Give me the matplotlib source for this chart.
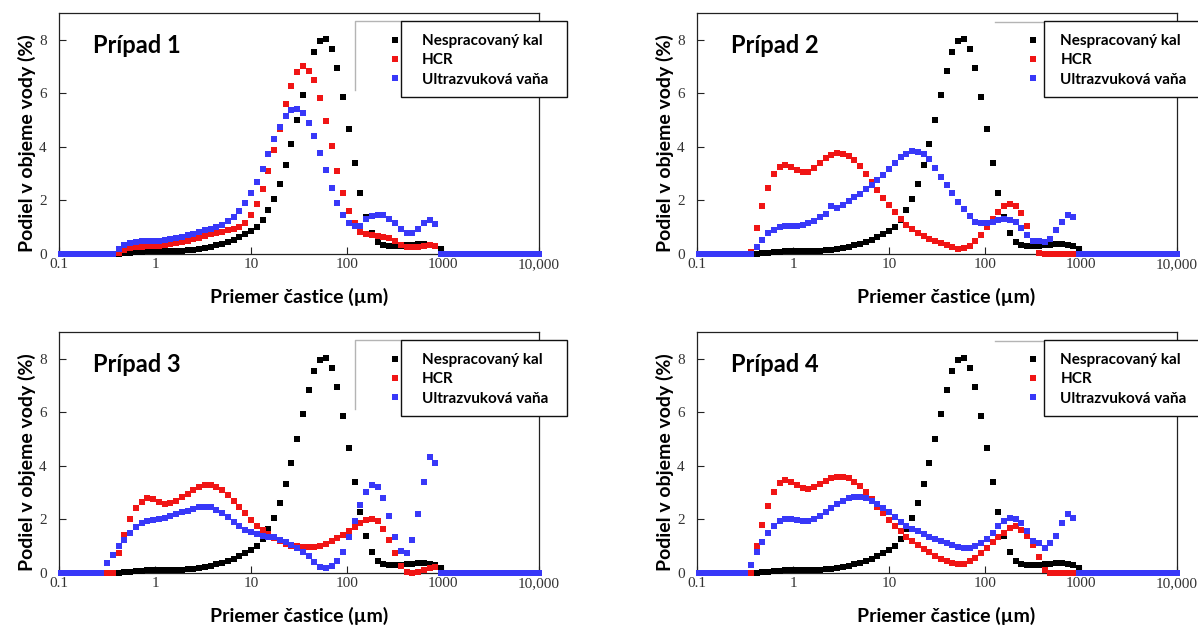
import numpy as np
import matplotlib
matplotlib.use("Agg")
import matplotlib.pyplot as plt
from matplotlib.lines import Line2D
from matplotlib.patches import Rectangle

# velkostne triedy (um), logaritmicka mriezka s krokom 0.06 dekady
bins = 10 ** (-0.98 + 0.06 * np.arange(84))
first = 8  # zoznamy nizsie zacinaju triedou k = 8 a koncia k = 66

kal = [0, 0, 0.0, 0.02, 0.05, 0.07, 0.09, 0.10, 0.10, 0.10, 0.10, 0.10,
       0.11, 0.12, 0.14, 0.16, 0.19, 0.23, 0.28, 0.33, 0.39, 0.46, 0.54,
       0.63, 0.73, 0.85, 1.02, 1.28, 1.66, 2.06, 2.62, 3.31, 4.12, 5.02,
       5.95, 6.82, 7.53, 7.96, 8.02, 7.66, 6.95, 5.88, 4.65, 3.39, 2.26,
       1.40, 0.80, 0.46, 0.33, 0.30, 0.30, 0.31, 0.33, 0.35, 0.37, 0.37,
       0.35, 0.30, 0.20]

hcr_1 = [0, 0, 0.02, 0.15, 0.22, 0.26, 0.28, 0.29, 0.30, 0.31, 0.33, 0.36,
         0.40, 0.44, 0.49, 0.55, 0.61, 0.67, 0.73, 0.78, 0.83, 0.88, 0.93,
         1.00, 1.15, 1.45, 1.88, 2.41, 3.09, 3.89, 4.67, 5.59, 6.28, 6.80,
         7.03, 6.84, 6.49, 5.83, 4.97, 4.04, 3.09, 2.29, 1.62, 1.14, 0.84,
         0.74, 0.72, 0.68, 0.64, 0.58, 0.47, 0.35, 0.27, 0.25, 0.27, 0.31,
         0.33, 0.31, 0]
uz_1 = [0, 0, 0.18, 0.33, 0.40, 0.44, 0.47, 0.48, 0.48, 0.50, 0.52, 0.56,
        0.60, 0.65, 0.70, 0.76, 0.82, 0.88, 0.95, 1.02, 1.10, 1.22, 1.40,
        1.62, 1.92, 2.26, 2.68, 3.19, 3.73, 4.29, 4.76, 5.15, 5.38, 5.41,
        5.25, 4.91, 4.41, 3.79, 3.13, 2.47, 1.92, 1.46, 1.17, 1.05, 1.05,
        1.30, 1.42, 1.47, 1.45, 1.32, 1.15, 0.93, 0.80, 0.80, 0.95, 1.17,
        1.26, 1.11, 0]

hcr_2 = [0, 0.09, 0.97, 1.80, 2.47, 2.97, 3.25, 3.33, 3.25, 3.13, 3.05, 3.08,
         3.22, 3.40, 3.57, 3.69, 3.76, 3.74, 3.65, 3.50, 3.28, 3.00, 2.70,
         2.40, 2.10, 1.82, 1.55, 1.30, 1.10, 0.92, 0.78, 0.66, 0.57, 0.48,
         0.40, 0.32, 0.25, 0.20, 0.21, 0.30, 0.48, 0.72, 1.00, 1.30, 1.58,
         1.78, 1.85, 1.78, 1.52, 1.05, 0.50, 0.05, 0, 0, 0, 0, 0, 0, 0]
uz_2 = [0, 0, 0.27, 0.53, 0.78, 0.91, 1.00, 1.03, 1.04, 1.06, 1.08, 1.14,
        1.24, 1.37, 1.49, 1.78, 1.72, 1.84, 1.98, 2.11, 2.24, 2.43, 2.57,
        2.76, 2.96, 3.17, 3.38, 3.61, 3.73, 3.86, 3.82, 3.73, 3.54, 3.23,
        2.89, 2.57, 2.28, 1.95, 1.68, 1.43, 1.21, 1.16, 1.15, 1.20, 1.26,
        1.30, 1.27, 1.18, 0.96, 0.70, 0.50, 0.50, 0.45, 0.55, 0.88, 1.18,
        1.47, 1.38, 0]

hcr_3 = [0, 0, 0.74, 1.43, 2.01, 2.42, 2.67, 2.79, 2.75, 2.64, 2.58, 2.61,
         2.69, 2.82, 2.94, 3.10, 3.23, 3.29, 3.29, 3.23, 3.10, 2.92, 2.69,
         2.48, 2.23, 1.99, 1.76, 1.59, 1.45, 1.30, 1.18, 1.08, 1.02, 0.99,
         0.97, 0.96, 0.97, 1.02, 1.09, 1.18, 1.30, 1.43, 1.55, 1.70, 1.86,
         1.99, 2.03, 1.94, 1.64, 1.22, 0.74, 0.25, 0.02, 0.0, 0.05, 0.12,
         0.19, 0.21, 0]
uz_3 = [0.37, 0.68, 0.99, 1.24, 1.49, 1.70, 1.86, 1.95, 1.99, 2.02, 2.07,
        2.13, 2.21, 2.27, 2.33, 2.39, 2.46, 2.48, 2.46, 2.36, 2.23, 2.08,
        1.92, 1.77, 1.61, 1.53, 1.45, 1.39, 1.36, 1.33, 1.24, 1.14, 1.03,
        0.92, 0.78, 0.62, 0.41, 0.22, 0.19, 0.25, 0.45, 0.80, 1.33, 1.93,
        2.55, 3.03, 3.29, 3.23, 2.80, 2.14, 1.36, 0.81, 0.75, 1.22, 2.22,
        3.38, 4.33, 4.10, 0]

hcr_4 = [0, 0, 0.99, 1.80, 2.51, 3.04, 3.35, 3.47, 3.41, 3.29, 3.16, 3.13,
         3.20, 3.33, 3.44, 3.54, 3.60, 3.60, 3.54, 3.41, 3.25, 3.01, 2.75,
         2.48, 2.23, 1.99, 1.76, 1.55, 1.36, 1.20, 1.05, 0.91, 0.77, 0.65,
         0.53, 0.43, 0.37, 0.35, 0.35, 0.43, 0.56, 0.74, 0.93, 1.14, 1.34,
         1.51, 1.68, 1.74, 1.62, 1.40, 1.05, 0.60, 0.10, 0, 0, 0, 0, 0, 0]
uz_4 = [0, 0.31, 0.77, 1.14, 1.49, 1.77, 1.96, 2.01, 2.01, 1.99, 1.96, 1.96,
        2.02, 2.13, 2.26, 2.42, 2.58, 2.70, 2.79, 2.85, 2.85, 2.79, 2.70,
        2.58, 2.42, 2.26, 2.08, 1.92, 1.77, 1.65, 1.55, 1.45, 1.36, 1.28,
        1.20, 1.12, 1.03, 0.96, 0.92, 0.92, 0.99, 1.12, 1.28, 1.49, 1.74,
        1.96, 2.07, 2.02, 1.86, 1.55, 1.20, 1.12, 0.95, 1.12, 1.40, 1.85,
        2.20, 2.05, 0]

labels = ["Nespracovaný kal", "HCR", "Ultrazvuková vaňa"]
colors = ["#000000", "#f01515", "#3838f8"]
titles = ["Prípad 1", "Prípad 2", "Prípad 3", "Prípad 4"]
hcr = [hcr_1, hcr_2, hcr_3, hcr_4]
uz = [uz_1, uz_2, uz_3, uz_4]

xticks = [0.1, 1, 10, 100, 1000, 10000]
xticklabels = ["0.1", "1", "10", "100", "1000", "10,000"]
yticks = [0, 2, 4, 6, 8]


def full(vals):
    out = np.zeros(bins.size)
    out[first:first + len(vals)] = vals
    return out


W, H = 1198, 626
fig = plt.figure(figsize=(W / 100, H / 100), dpi=100)

# pozicie osi v pixeloch: (lavy okraj, horny okraj)
boxes = [(59, 13), (697, 13), (59, 332), (697, 332)]
aw, ah = 480, 241
bold = dict(family="Lato", weight="bold")
serif = dict(family="Liberation Serif", size=11)

for i in range(4):
    x0, y0 = boxes[i]
    ax = fig.add_axes([x0 / W, 1 - (y0 + ah) / H, aw / W, ah / H])
    series = [full(kal), full(hcr[i]), full(uz[i])]
    for s, c in zip(series, colors):
        ax.plot(bins, s, ls="none", marker="s", ms=4.7, mew=0, color=c,
                clip_on=False, zorder=3)

    ax.set_xscale("log")
    ax.set_xlim(0.1, 10000)
    ax.set_ylim(0, 9)
    ax.set_xticks(xticks)
    ax.set_xticklabels(xticklabels, fontdict=serif, color="#333333")
    ax.xaxis.set_minor_locator(matplotlib.ticker.NullLocator())
    ax.set_yticks(yticks)
    ax.set_yticklabels([str(v) for v in yticks], fontdict=serif, color="#333333")
    ax.tick_params(direction="in", length=5, width=0.8, color="#222222")
    ax.tick_params(axis="x", pad=3)
    ax.tick_params(axis="y", pad=9)
    for sp in ax.spines.values():
        sp.set_linewidth(0.9)
        sp.set_color("#222222")

    ax.text(0.071, 0.865, titles[i], transform=ax.transAxes, fontsize=17,
            va="center", ha="left", **bold)
    ax.text(0.5 if i % 2 == 0 else 0.52, -0.178, "Priemer častice (µm)",
            transform=ax.transAxes, fontsize=14, ha="center", va="center", **bold)
    ax.text(-0.066, 0.46, "Podiel v objeme vody (%)", transform=ax.transAxes,
            fontsize=14, rotation=90, ha="center", va="center", **bold)

    # sivy ram povodnej legendy a biely ramcek s textom
    right = i % 2 == 1
    bx = 0.723 if right else 0.7125
    bw = 0.40 if right else 0.346
    top = 0.968
    if right:
        ax.plot([0.62, bx], [0.963, 0.963], transform=ax.transAxes,
                color="#b4b4b4", lw=1, clip_on=False, zorder=4)
    else:
        ax.plot([0.617, 0.617, bx], [0.68, top, top], transform=ax.transAxes,
                color="#b4b4b4", lw=1, clip_on=False, zorder=4)
    ax.add_patch(Rectangle((bx, top - 0.315), bw, 0.315, transform=ax.transAxes,
                           facecolor="white", edgecolor="#111111", lw=1,
                           clip_on=False, zorder=5))
    handles = [Line2D([], [], ls="none", marker="s", ms=4.7, mew=0, color=c)
               for c in colors]
    lx = bx - (0.031 if right else 0.021)
    leg = ax.legend(handles, labels, frameon=False, loc="upper left",
                    bbox_to_anchor=(lx, top - 0.057), borderpad=0,
                    borderaxespad=0, handlelength=0.55, handletextpad=1.5,
                    labelspacing=0.33, prop=dict(family="Lato", weight="bold",
                                                 size=11))
    leg.set_zorder(6)

fig.savefig("out.png", dpi=100)
